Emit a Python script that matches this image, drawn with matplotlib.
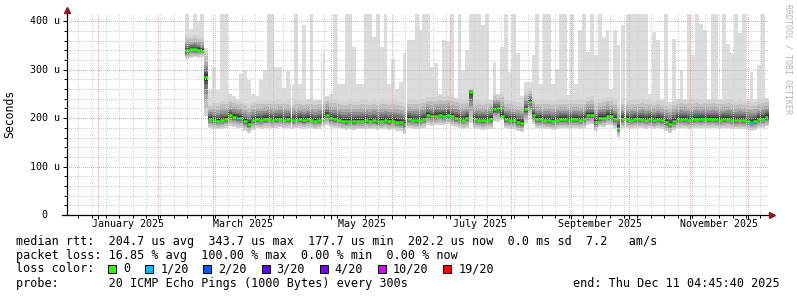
import numpy as np
import pandas as pd
import matplotlib
matplotlib.use("Agg")
from matplotlib import pyplot as plt
import matplotlib.dates as mdates
from matplotlib.ticker import MultipleLocator
from matplotlib.patches import Rectangle
from datetime import datetime

W, H, DPI = 797, 297, 100

# time window of the graph (last 360 days)
start = datetime(2024, 12, 16, 4, 45, 40)
end = datetime(2025, 12, 11, 4, 45, 40)
first_sample = "2025-02-14 18:00"
step = "2D"

# median rtt per step, in microseconds
median = [338, 343, 342, 341, 339, 285, 199, 197, 195, 197,
          198, 206, 202, 201, 200, 194, 188, 196, 198, 197,
          198, 199, 197, 198, 199, 197, 198, 196, 197, 198,
          196, 198, 197, 195, 196, 199, 206, 200, 198, 197,
          195, 194, 195, 194, 195, 195, 196, 195, 196, 194,
          195, 196, 194, 195, 193, 192, 187, 198, 197, 196,
          197, 199, 206, 204, 205, 206, 205, 207, 204, 201,
          199, 197, 200, 254, 198, 197, 196, 197, 198, 218,
          220, 205, 198, 197, 196, 192, 190, 218, 234, 206,
          198, 198, 197, 196, 195, 197, 198, 198, 197, 198,
          198, 197, 198, 206, 206, 192, 200, 201, 205, 204,
          198, 179, 198, 198, 197, 198, 198, 199, 197, 198,
          196, 198, 196, 192, 188, 194, 198, 199, 198, 197,
          198, 199, 198, 199, 198, 199, 198, 197, 198, 199,
          197, 196, 197, 196, 195, 193, 194, 198, 199, 202]

# bottom of the smoke
smoke_lo = [322, 325, 326, 325, 327, 205, 180, 178, 177, 178,
            180, 184, 182, 180, 179, 174, 170, 176, 179, 178,
            180, 180, 179, 180, 181, 179, 180, 178, 179, 180,
            178, 180, 179, 177, 178, 181, 186, 181, 180, 179,
            177, 176, 177, 176, 177, 177, 178, 177, 178, 176,
            177, 178, 176, 177, 174, 173, 168, 179, 178, 177,
            178, 180, 186, 184, 185, 186, 185, 187, 184, 181,
            180, 178, 180, 190, 178, 177, 176, 177, 178, 195,
            192, 196, 179, 178, 177, 173, 171, 190, 205, 188,
            179, 179, 178, 177, 176, 178, 179, 179, 178, 179,
            179, 178, 179, 185, 187, 174, 181, 182, 186, 185,
            179, 162, 179, 179, 178, 179, 179, 180, 178, 179,
            177, 179, 177, 173, 169, 175, 179, 180, 179, 178,
            179, 180, 179, 180, 179, 180, 179, 178, 179, 180,
            178, 177, 178, 177, 176, 174, 175, 179, 180, 183]

# top of the dense smoke
smoke_hi = [372, 368, 372, 370, 368, 338, 228, 232, 232, 236,
            236, 240, 238, 236, 236, 232, 230, 234, 236, 236,
            238, 238, 236, 237, 238, 236, 237, 236, 238, 238,
            236, 238, 237, 236, 237, 238, 244, 240, 240, 238,
            236, 236, 237, 236, 236, 237, 238, 236, 237, 236,
            237, 238, 236, 237, 235, 234, 232, 238, 238, 237,
            238, 240, 244, 243, 244, 245, 244, 246, 243, 241,
            240, 238, 240, 262, 238, 237, 236, 237, 238, 252,
            248, 252, 238, 237, 236, 234, 232, 256, 262, 244,
            238, 238, 237, 237, 236, 237, 238, 238, 237, 238,
            238, 237, 238, 244, 245, 234, 240, 241, 244, 244,
            238, 228, 238, 238, 237, 238, 238, 239, 237, 238,
            236, 238, 236, 234, 230, 235, 238, 239, 238, 237,
            238, 239, 238, 239, 238, 239, 238, 237, 238, 239,
            237, 236, 237, 236, 235, 234, 234, 238, 239, 242]

# slowest ping per step (light grey spikes)
smoke_max = [415, 385, 415, 400, 415, 345, 258, 306, 258, 415,
             415, 250, 245, 240, 292, 300, 278, 250, 245, 278,
             300, 415, 415, 306, 306, 262, 298, 270, 415, 270,
             392, 240, 415, 238, 238, 334, 245, 250, 415, 270,
             270, 415, 415, 347, 270, 270, 415, 415, 368, 415,
             347, 415, 270, 323, 261, 275, 334, 361, 361, 415,
             381, 415, 415, 306, 313, 250, 361, 358, 415, 242,
             415, 299, 340, 415, 415, 415, 392, 415, 238, 316,
             250, 347, 415, 296, 415, 334, 245, 275, 275, 330,
             415, 270, 415, 415, 270, 302, 415, 415, 247, 415,
             270, 381, 415, 337, 415, 330, 415, 368, 381, 261,
             381, 350, 392, 415, 415, 415, 415, 415, 415, 250,
             378, 361, 240, 415, 233, 364, 240, 299, 240, 415,
             330, 415, 395, 381, 240, 415, 415, 240, 415, 354,
             334, 415, 375, 415, 240, 296, 240, 309, 415, 240]

# steps with packet loss: step index -> loss level index
lossy_steps = {13: 1, 145: 1}

# missing samples
gap_dates = ["2025-04-10 05:00", "2025-04-26 03:00", "2025-06-08 06:00",
             "2025-09-26 04:00", "2025-09-28 18:00"]

loss_labels = ["0", "1/20", "2/20", "3/20", "4/20", "10/20", "19/20"]
loss_colors = ["#26ff00", "#00b8ff", "#0059ff", "#5e00ff", "#7e00ff", "#dd00ff", "#ff0000"]

y_ticks = [0, 100, 200, 300, 400]
label_months = [1, 3, 5, 7, 9, 11]

legend_lines = [
    "median rtt:  204.7 us avg  343.7 us max  177.7 us min  202.2 us now  0.0 ms sd  7.2   am/s",
    "packet loss: 16.85 % avg  100.00 % max  0.00 % min  0.00 % now",
]
probe_line = "probe:       20 ICMP Echo Pings (1000 Bytes) every 300s"
end_line = "end: Thu Dec 11 04:45:40 2025"

plt.rcParams['font.family'] = ['DejaVu Sans Mono']

fig = plt.figure(figsize=(W / DPI, H / DPI), dpi=DPI)
fig.patch.set_facecolor("white")
ax = fig.add_axes([67 / W, (H - 215) / H, (768 - 67) / W, (215 - 14) / H])

n = len(median)
xs = mdates.date2num(pd.date_range(first_sample, periods=n + 1, freq=step).to_pydatetime())
med = np.append(median, median[-1]).astype(float)
lo = np.append(smoke_lo, smoke_lo[-1]).astype(float)
hi = np.append(smoke_hi, smoke_hi[-1]).astype(float)
mx = np.append(smoke_max, smoke_max[-1]).astype(float)

# smoke
ax.fill_between(xs, lo, mx, step="post", color="#dcdcdc", lw=0, zorder=1.0)
shades = ["#d2d2d2", "#c0c0c0", "#aaaaaa", "#909090", "#747474", "#555555", "#363636"]
fracs = [1.0, 0.8, 0.6, 0.44, 0.3, 0.19, 0.1]
for k, (c, f) in enumerate(zip(shades, fracs)):
    ax.fill_between(xs, med - (med - lo) * f, med + (hi - med) * f, step="post",
                    color=c, lw=0, zorder=1.1 + k * 0.05)

# median, coloured by loss
seg_colors = [loss_colors[lossy_steps.get(i, 0)] for i in range(n)]
ax.hlines(median, xs[:-1], xs[1:], colors=seg_colors, lw=1.8, zorder=2.0)

for g in gap_dates:
    d = mdates.date2num(pd.Timestamp(g).to_pydatetime())
    ax.axvspan(d, d + 0.5, color="white", lw=0, zorder=2.2)

ax.set_xlim(start, end)
ax.set_ylim(0, 415)
ax.set_axisbelow(False)
ax.xaxis.set_major_locator(mdates.MonthLocator())
ax.xaxis.set_minor_locator(mdates.WeekdayLocator(byweekday=mdates.SU))
ax.yaxis.set_major_locator(MultipleLocator(100))
ax.yaxis.set_minor_locator(MultipleLocator(20))
ax.grid(which="major", color="#eba9a9", linestyle=(0, (1, 1.6)), lw=0.72, antialiased=False)
ax.grid(which="minor", color="#d2d2d2", linestyle=(0, (1, 1.6)), lw=0.72, antialiased=False)
ax.tick_params(which="major", length=3, width=0.72, direction="out",
               labelbottom=False, labelleft=False)
ax.tick_params(which="minor", length=2, width=0.72, direction="out")
for s in ax.spines.values():
    s.set_visible(False)

# axes with arrows
ax.plot([-5 / 701, 702 / 701], [0, 0], color="black", lw=0.9, transform=ax.transAxes, clip_on=False, zorder=5)
ax.plot([0, 0], [0, 1.005], color="black", lw=0.9, transform=ax.transAxes, clip_on=False, zorder=5)
ax.plot(0, 1.018, marker="^", ms=4.2, color="#8b1a1a", mec="#8b1a1a", transform=ax.transAxes, clip_on=False, zorder=6)
ax.plot(1 + 4 / 701, 0, marker=">", ms=4.2, color="#8b1a1a", mec="#8b1a1a", transform=ax.transAxes, clip_on=False, zorder=6)

# y labels
for v in y_ticks:
    if v == 0:
        txt, off = "0", -19.5
    else:
        txt, off = "%d u" % v, -7.5
    ax.annotate(txt, xy=(0, v), xycoords=("axes fraction", "data"), xytext=(off, 0),
                textcoords="offset pixels", ha="right", va="center", fontsize=7.2)

# x labels centred on the month
for m in label_months:
    a = pd.Timestamp(2025, m, 1)
    b = a + pd.offsets.MonthBegin(1)
    mid = mdates.date2num((a + (b - a) / 2).to_pydatetime())
    ax.annotate(a.strftime("%B %Y"), xy=(mid, 0), xycoords=("data", "axes fraction"),
                xytext=(0, -4), textcoords="offset pixels", ha="center", va="top", fontsize=7.2)

fig.text(10 / W, 1 - 114 / H, "Seconds", rotation=90, ha="center", va="center", fontsize=8.3)
fig.text(788 / W, 1 - 4 / H, "RRDTOOL / TOBI OETIKER", rotation=270, ha="center", va="top",
         fontsize=6, color="#b4b4b4")

# legend block
for j, line in enumerate(legend_lines):
    fig.text(16 / W, 1 - (241 + 14.5 * j) / H, line, ha="left", va="center", fontsize=8.5)
fig.text(16 / W, 1 - 269 / H, "loss color:", ha="left", va="center", fontsize=8.5)
cx = 108.3
for lab, col in zip(loss_labels, loss_colors):
    fig.add_artist(Rectangle((cx / W, 1 - 272.5 / H), 8 / W, 8 / H, facecolor=col,
                             edgecolor="black", lw=0.72, transform=fig.transFigure))
    fig.text((cx + 15) / W, 1 - 269 / H, lab, ha="left", va="center", fontsize=8.5)
    cx += 15 + len(lab) * 7.1 + 14.8
fig.text(16 / W, 1 - 283.5 / H, probe_line, ha="left", va="center", fontsize=8.5)
fig.text(780 / W, 1 - 283.5 / H, end_line, ha="right", va="center", fontsize=8.5)

fig.savefig("out.png", dpi=DPI)
